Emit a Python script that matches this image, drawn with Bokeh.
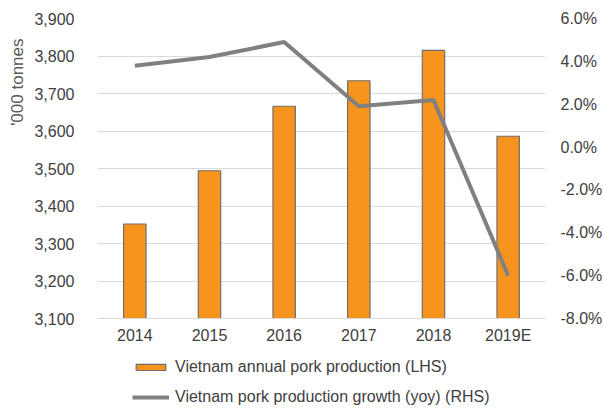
from bokeh.plotting import figure
from bokeh.layouts import column
from bokeh.models import (Range1d, LinearAxis, FactorRange, NumeralTickFormatter,
                          PrintfTickFormatter, FixedTicker, Legend, LegendItem, Title,
                          ColumnDataSource)
from bokeh.embed import file_html
from bokeh.resources import INLINE

years = ["2014", "2015", "2016", "2017", "2018", "2019E"]
production = [3352, 3494, 3666, 3734, 3815, 3586]
growth = [3.8, 4.2, 4.9, 1.9, 2.2, -6.0]
left_ticks = [3100, 3200, 3300, 3400, 3500, 3600, 3700, 3800, 3900]
right_ticks = [-8, -6, -4, -2, 0, 2, 4, 6]
series_names = ["Vietnam annual pork production (LHS)",
                "Vietnam pork production growth (yoy) (RHS)"]

FONT = "Liberation Sans"
TXT = "#404040"
FS = "16px"
ORANGE = "#F7941D"
BAR_LINE = "#6E6E6E"
GREY = "#808080"

src = ColumnDataSource(dict(years=years, production=production, growth=growth))

p = figure(frame_width=448, frame_height=300, x_range=FactorRange(*years, range_padding=0),
           y_range=Range1d(3100, 3900), output_backend="svg", toolbar_location=None,
           min_border_left=97, min_border_right=58, min_border_top=18, min_border_bottom=30)
p.outline_line_color = None
p.extra_y_ranges = {"pct": Range1d(-8, 6)}

bars = p.vbar(x="years", top="production", bottom=3100, width=0.3, source=src,
              fill_color=ORANGE, line_color=BAR_LINE, line_width=1.2)
line = p.line(x="years", y="growth", y_range_name="pct", source=src,
              line_color=GREY, line_width=4)

p.xaxis.axis_line_color = "#D9D9D9"
p.xaxis.major_tick_line_color = None
p.xaxis.minor_tick_line_color = None
p.xaxis.major_label_text_font = FONT
p.xaxis.major_label_text_font_size = FS
p.xaxis.major_label_text_color = TXT
p.xaxis.major_label_standoff = 2
p.xgrid.grid_line_color = None

p.yaxis.ticker = FixedTicker(ticks=left_ticks)
p.yaxis.formatter = NumeralTickFormatter(format="0,0")
p.yaxis.axis_line_color = None
p.yaxis.major_tick_line_color = None
p.yaxis.minor_tick_line_color = None
p.yaxis.major_label_text_font = FONT
p.yaxis.major_label_text_font_size = FS
p.yaxis.major_label_text_color = TXT
p.yaxis.major_label_standoff = 17
p.ygrid.grid_line_color = "#D9D9D9"
p.ygrid.ticker = FixedTicker(ticks=left_ticks)

ra = LinearAxis(y_range_name="pct", ticker=FixedTicker(ticks=right_ticks),
                formatter=PrintfTickFormatter(format="%.1f%%"))
ra.axis_line_color = None
ra.major_tick_line_color = None
ra.minor_tick_line_color = None
ra.major_tick_out = 0
ra.major_label_text_font = FONT
ra.major_label_text_font_size = FS
ra.major_label_text_color = TXT
ra.major_label_standoff = 15
p.add_layout(ra, "right")

t = Title(text="'000 tonnes", align="right", offset=20, text_font=FONT, text_font_size="17px",
          text_font_style="normal", text_color="#595959")
p.add_layout(t, "left")

# legend strip below the chart (frame aligned with the chart frame)
lg = figure(width=603, height=60, output_backend="svg", toolbar_location=None,
            x_range=FactorRange(*years, range_padding=0), y_range=Range1d(100000, 100001),
            min_border=0)
lg.axis.visible = False
lg.grid.visible = False
lg.outline_line_color = None
lb = lg.vbar(x="years", top="production", bottom=3100, width=0.3, source=src,
             fill_color=ORANGE, line_color=BAR_LINE, line_width=1.2)
ll = lg.line(x="years", y="growth", source=src, line_color=GREY, line_width=4)

legend = Legend(items=[LegendItem(label=series_names[0], renderers=[lb]),
                       LegendItem(label=series_names[1], renderers=[ll])],
                location=(35, 1), orientation="vertical", padding=0, margin=0,
                border_line_color=None, background_fill_alpha=0,
                glyph_width=37, glyph_height=8, label_height=20, spacing=10,
                label_standoff=6, label_text_font=FONT, label_text_font_size=FS,
                label_text_color=TXT)
lg.add_layout(legend, "center")

open("out.html", "w").write(file_html(column(p, lg, spacing=0), INLINE))
